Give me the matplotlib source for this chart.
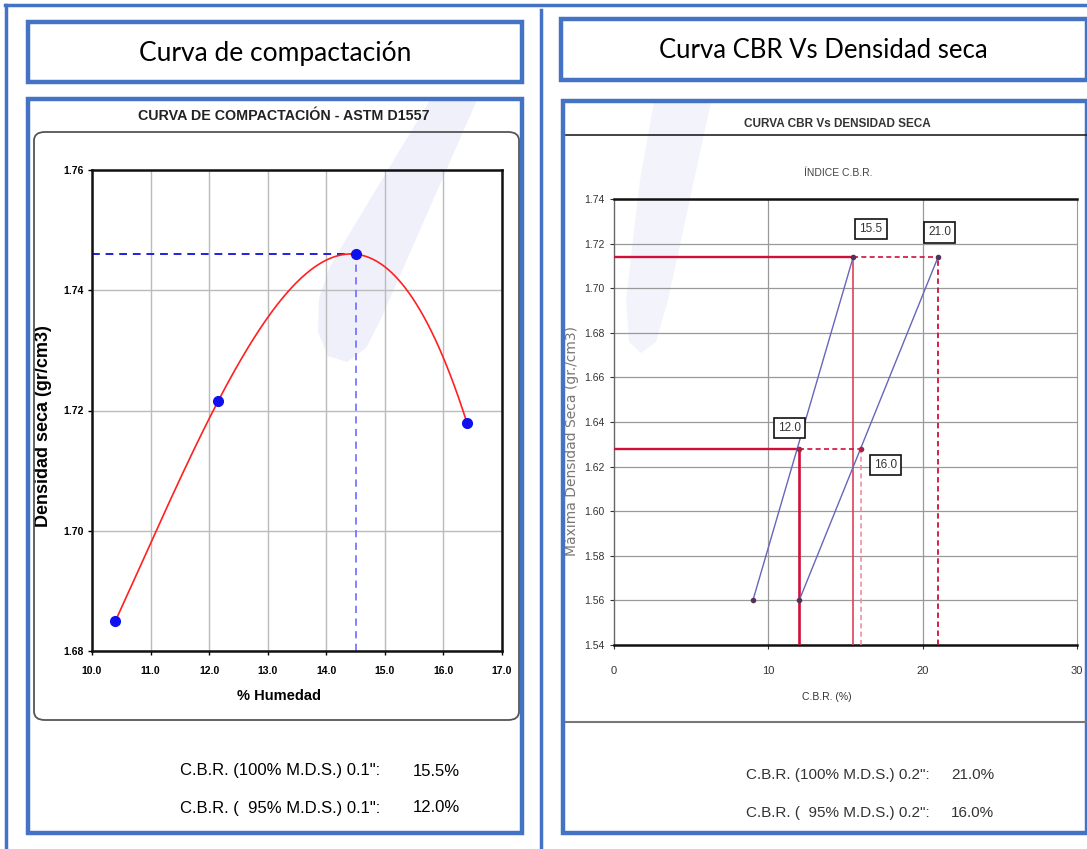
import numpy as np
import matplotlib
matplotlib.use("Agg")
import matplotlib.pyplot as plt
from matplotlib.patches import Rectangle, FancyBboxPatch

# ---------------- data ----------------
humedad = [10.4, 12.15, 14.5, 16.4]
densidad = [1.685, 1.7215, 1.746, 1.718]
hum_opt = 14.5
dens_max = 1.746
x_ticks_left = [10.0, 11.0, 12.0, 13.0, 14.0, 15.0, 16.0, 17.0]
y_ticks_left = [1.68, 1.70, 1.72, 1.74, 1.76]

cbr_01 = [9.0, 15.5]        # CBR 0.1" at densities below
cbr_02 = [12.0, 21.0]       # CBR 0.2"
dens_cbr = [1.56, 1.714]
dens_95 = 1.628
cbr95_01 = 12.0
cbr95_02 = 16.0
cbr100_01 = 15.5
cbr100_02 = 21.0
y_ticks_right = [1.54, 1.56, 1.58, 1.60, 1.62, 1.64, 1.66, 1.68, 1.70, 1.72, 1.74]
x_ticks_right = [0, 10, 20, 30]

W, H = 1087, 849
fig = plt.figure(figsize=(W / 100, H / 100), dpi=100)
fig.patch.set_facecolor("white")

BLUE = "#4472C4"
NARROW = ["Liberation Sans Narrow", "Liberation Sans", "DejaVu Sans"]


def fx(x):
    return x / W


def fy(y):
    return 1 - y / H


def rect_ax(x0, y0, x1, y1):
    return [fx(x0), fy(y1), (x1 - x0) / W, (y1 - y0) / H]


def box(x0, y0, x1, y1, ec=BLUE, lw=3.2, fc="none", z=1):
    fig.patches.append(Rectangle((fx(x0), fy(y1)), (x1 - x0) / W, (y1 - y0) / H,
                                 transform=fig.transFigure, ec=ec, fc=fc, lw=lw, zorder=z))


def fline(xs, ys, **kw):
    fig.add_artist(plt.Line2D([fx(v) for v in xs], [fy(v) for v in ys],
                              transform=fig.transFigure, **kw))


def fpoly(pts, color):
    fig.patches.append(plt.Polygon([[fx(a), fy(b)] for a, b in pts], closed=True,
                                   transform=fig.transFigure, fc=color, ec="none", zorder=-5))


# faint watermark swooshes (behind everything)
fpoly([(430, 100), (477, 100), (380, 321), (366, 348), (347, 362), (328, 356),
       (318, 332), (319, 298), (330, 266)], "#F0F0FA")
fpoly([(654, 102), (711, 102), (668, 300), (656, 342), (641, 353), (629, 342),
       (626, 300), (640, 180)], "#F3F3FB")

# outer frame
fline([5, 1087], [5, 5], color=BLUE, lw=2.5)
fline([6, 6], [5, 849], color=BLUE, lw=2.5)
fline([541, 541], [10, 849], color=BLUE, lw=2.5)

# header boxes
box(28, 22, 522, 82)
box(561, 19, 1087, 80)
fig.text(fx(275), fy(53), "Curva de compactación", ha="center", va="center",
         fontsize=19, family=["Lato", "DejaVu Sans"])
fig.text(fx(823), fy(50), "Curva CBR Vs Densidad seca", ha="center", va="center",
         fontsize=18.5, family=["Lato", "DejaVu Sans"])

# lower boxes
box(28, 99, 522, 833)
box(563, 101, 1087, 833)

# ---------------- left chart ----------------
fig.text(fx(284), fy(116), "CURVA DE COMPACTACIÓN - ASTM D1557", ha="center", va="center",
         fontsize=10.3, fontweight="bold", family=NARROW, color="#222222")
fig.patches.append(FancyBboxPatch((fx(34), fy(720)), fx(519 - 34), (720 - 132) / H,
                                  boxstyle="round,pad=0,rounding_size=0.01",
                                  transform=fig.transFigure, ec="#555555", fc="none", lw=1.3))

axL = fig.add_axes(rect_ax(92, 170, 502, 651))
axL.patch.set_alpha(0)
xs = np.linspace(min(humedad), max(humedad), 300)
coef = np.polyfit(humedad, densidad, 3)
axL.plot(xs, np.polyval(coef, xs), color="#FF2020", lw=1.2, zorder=3)
axL.plot(humedad, densidad, "o", color="#1010EE", ms=7, zorder=4)
axL.plot([10.0, hum_opt], [dens_max, dens_max], ls=(0, (4, 3)), color="#2020DD", lw=1.4, zorder=2)
axL.plot([hum_opt, hum_opt], [1.68, dens_max], ls=(0, (4, 3)), color="#7777FF", lw=1.3, zorder=2)
axL.set_xlim(10, 17)
axL.set_ylim(1.68, 1.76)
axL.set_xticks(x_ticks_left)
axL.set_xticklabels([f"{v:.1f}" for v in x_ticks_left])
axL.set_yticks(y_ticks_left)
axL.set_yticklabels([f"{v:.2f}" for v in y_ticks_left])
axL.grid(True, color="#BBBBBB", lw=1.0)
axL.set_axisbelow(True)
for s in axL.spines.values():
    s.set_linewidth(1.8)
    s.set_color("#111111")
axL.tick_params(axis="y", length=3, width=1, labelsize=7.5, pad=3)
axL.tick_params(axis="x", length=3, width=1, labelsize=7.5, pad=8)
for lab in axL.get_xticklabels() + axL.get_yticklabels():
    lab.set_family(NARROW)
    lab.set_fontweight("bold")
axL.set_xlabel("% Humedad", fontsize=10.5, fontweight="bold", family=NARROW)
axL.xaxis.set_label_coords((279 - 92) / (502 - 92), -(689 - 651) / (651 - 170))
axL.set_ylabel("Densidad seca (gr/cm3)", fontsize=13, fontweight="bold", family=NARROW)
axL.yaxis.set_label_coords(-(92 - 52) / (502 - 92), (651 - 426) / (651 - 170))

fs_b = 12
fig.text(fx(180), fy(771), "C.B.R. (100% M.D.S.) 0.1\":", ha="left", va="center",
         fontsize=fs_b, family=NARROW)
fig.text(fx(413), fy(771), "15.5%", ha="left", va="center", fontsize=fs_b, family=NARROW)
fig.text(fx(180), fy(808), "C.B.R. (  95% M.D.S.) 0.1\":", ha="left", va="center",
         fontsize=fs_b, family=NARROW)
fig.text(fx(413), fy(808), "12.0%", ha="left", va="center", fontsize=fs_b, family=NARROW)

# ---------------- right chart ----------------
fig.text(fx(837), fy(124), "CURVA CBR Vs DENSIDAD SECA", ha="center", va="center",
         fontsize=8.5, fontweight="bold", family=NARROW, color="#333333")
fline([566, 1087], [135, 135], color="#222222", lw=1.2)
fline([566, 1087], [722, 722], color="#777777", lw=1.5)
fig.text(fx(838), fy(173), "ÍNDICE C.B.R.", ha="center", va="center",
         fontsize=7.5, family=NARROW, color="#444444")

axR = fig.add_axes(rect_ax(614, 199, 1077, 645))
axR.patch.set_alpha(0)
RED = "#D0103A"
# 100% lines
axR.plot([0, cbr100_01], [dens_cbr[1]] * 2, color=RED, lw=1.7, zorder=3)
axR.plot([cbr100_01, cbr100_02], [dens_cbr[1]] * 2, color=RED, lw=1.2, ls=(0, (3, 2)), zorder=3)
axR.plot([cbr100_01] * 2, [1.54, dens_cbr[1]], color="#E0405A", lw=1.2, zorder=3)
axR.plot([cbr100_02] * 2, [1.54, dens_cbr[1]], color=RED, lw=1.3, ls=(0, (3, 2)), zorder=3)
# 95% lines
axR.plot([0, cbr95_01], [dens_95] * 2, color=RED, lw=1.7, zorder=3)
axR.plot([cbr95_01, cbr95_02], [dens_95] * 2, color=RED, lw=1.2, ls=(0, (3, 2)), zorder=3)
axR.plot([cbr95_01] * 2, [1.54, dens_95], color=RED, lw=1.9, zorder=3)
axR.plot([cbr95_02] * 2, [1.54, dens_95], color="#F08FA0", lw=1.2, ls=(0, (3, 2)), zorder=3)
# CBR curves
axR.plot(cbr_01, dens_cbr, color="#6666BB", lw=1.0, marker="o", ms=3, mfc="#553355",
         mec="#553355", zorder=4)
axR.plot(cbr_02, dens_cbr, color="#6666BB", lw=1.0, marker="o", ms=3, mfc="#553355",
         mec="#553355", zorder=4)
axR.plot([cbr95_01, cbr95_02], [dens_95] * 2, "o", ms=3, color="#AA2244", zorder=5)

bbox = dict(boxstyle="square,pad=0.35", fc="white", ec="#111111", lw=1.2)
lab_kw = dict(ha="center", va="center", fontsize=8.5, family=NARROW, color="#333333",
              bbox=bbox, zorder=6)
axR.text(16.65, 1.7265, f"{cbr100_01:.1f}", **lab_kw)
axR.text(21.1, 1.725, f"{cbr100_02:.1f}", **lab_kw)
axR.text(11.35, 1.6373, f"{cbr95_01:.1f}", **lab_kw)
axR.text(17.6, 1.6207, f"{cbr95_02:.1f}", **lab_kw)

axR.set_xlim(0, 30)
axR.set_ylim(1.54, 1.74)
axR.set_xticks(x_ticks_right)
axR.set_xticklabels([str(v) for v in x_ticks_right])
axR.set_yticks(y_ticks_right)
axR.set_yticklabels([f"{v:.2f}" for v in y_ticks_right])
axR.grid(True, axis="y", color="#999999", lw=0.9)
for v in [10, 20]:
    axR.axvline(v, color="#999999", lw=0.9, zorder=0)
axR.set_axisbelow(True)
axR.spines["top"].set_linewidth(1.8)
axR.spines["bottom"].set_linewidth(1.8)
axR.spines["top"].set_color("#111111")
axR.spines["bottom"].set_color("#111111")
axR.spines["left"].set_color("#666666")
axR.spines["right"].set_color("#999999")
axR.spines["left"].set_linewidth(1.0)
axR.spines["right"].set_linewidth(0.8)
axR.tick_params(axis="y", length=3, width=0.8, labelsize=7.5, pad=4, colors="#333333")
axR.tick_params(axis="x", length=3, width=0.8, labelsize=8, pad=12, colors="#333333")
for lab in axR.get_xticklabels() + axR.get_yticklabels():
    lab.set_family(NARROW)
axR.set_xlabel("C.B.R. (%)", fontsize=7.5, family=NARROW, color="#333333")
axR.xaxis.set_label_coords((827 - 614) / (1077 - 614), -(692 - 645) / (645 - 199))
axR.set_ylabel("Máxima Densidad Seca (gr./cm3)", fontsize=10, color="#777777")
axR.yaxis.set_label_coords(-(614 - 579) / (1077 - 614), (645 - 441) / (645 - 199))

fs_r = 11
fig.text(fx(746), fy(775), "C.B.R. (100% M.D.S.) 0.2\":", ha="left", va="center",
         fontsize=fs_r, family=NARROW, color="#333333")
fig.text(fx(951), fy(775), "21.0%", ha="left", va="center", fontsize=fs_r, family=NARROW,
         color="#333333")
fig.text(fx(746), fy(813), "C.B.R. (  95% M.D.S.) 0.2\":", ha="left", va="center",
         fontsize=fs_r, family=NARROW, color="#333333")
fig.text(fx(951), fy(813), "16.0%", ha="left", va="center", fontsize=fs_r, family=NARROW,
         color="#333333")

fig.savefig("out.png", dpi=100, facecolor="white")
